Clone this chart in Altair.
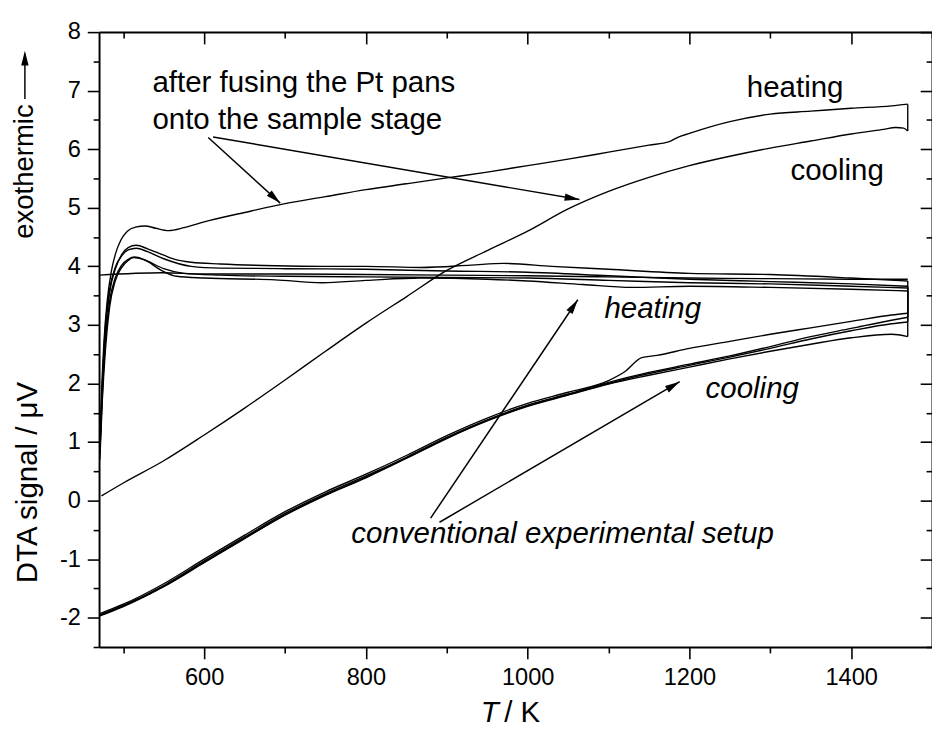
import math
import altair as alt
import pandas as pd

FONT = "Liberation Sans"
X_DOMAIN = [470, 1500]
Y_DOMAIN = [-2.5, 8]
W, H = 848, 626

# ---------------- data ----------------
# after fusing the Pt pans: heating run, then cooling run
fh_T = [471, 473, 476, 480, 485, 490, 497, 505, 515, 527, 540, 556, 575, 600, 650, 700, 750, 800, 850, 900,
        950, 1000, 1050, 1100, 1150, 1175, 1185, 1200, 1250, 1300, 1350, 1400, 1450, 1470]
fh_v = [0.9, 1.8, 2.7, 3.4, 3.9, 4.2, 4.45, 4.6, 4.67, 4.69, 4.65, 4.61, 4.66, 4.76, 4.92, 5.07, 5.19, 5.31, 5.41, 5.51,
        5.61, 5.72, 5.83, 5.95, 6.07, 6.13, 6.20, 6.27, 6.47, 6.60, 6.65, 6.70, 6.74, 6.77]
fc_T = [1470, 1465, 1455, 1440, 1400, 1350, 1300, 1250, 1200, 1150, 1100, 1050, 1000, 950, 900, 850, 800, 750,
        700, 650, 600, 550, 500, 473]
fc_v = [6.31, 6.36, 6.37, 6.34, 6.26, 6.14, 6.02, 5.88, 5.72, 5.52, 5.28, 4.98, 4.60, 4.27, 3.93, 3.48, 3.03, 2.55,
        2.06, 1.58, 1.12, 0.68, 0.30, 0.08]

# conventional experimental setup: heating runs
ch1_T = [471, 474, 478, 483, 490, 498, 506, 516, 530, 550, 566, 584, 620, 688, 746, 800, 868, 930, 970, 1030,
         1100, 1200, 1300, 1400, 1470]
ch1_v = [0.8, 1.9, 2.9, 3.55, 3.95, 4.2, 4.32, 4.36, 4.30, 4.19, 4.11, 4.07, 4.04, 4.01, 4.00, 4.00, 3.98, 4.02,
         4.05, 4.00, 3.95, 3.88, 3.86, 3.80, 3.75]
ch2_T = [471, 474, 478, 483, 490, 498, 506, 516, 530, 550, 584, 620, 700, 800, 900, 1000, 1100, 1200, 1300, 1400, 1470]
ch2_v = [0.9, 2.0, 3.0, 3.6, 3.98, 4.18, 4.28, 4.31, 4.25, 4.13, 4.00, 3.97, 3.96, 3.95, 3.92, 3.90, 3.84, 3.78,
         3.74, 3.70, 3.66]
ch3_T = [471, 474, 478, 483, 490, 498, 506, 512, 525, 546, 566, 600, 688, 746, 800, 868, 950, 1000, 1068, 1129,
         1200, 1300, 1400, 1470]
ch3_v = [0.7, 1.7, 2.6, 3.3, 3.75, 3.98, 4.10, 4.15, 4.12, 3.94, 3.83, 3.80, 3.77, 3.72, 3.76, 3.80, 3.78, 3.75,
         3.69, 3.64, 3.66, 3.64, 3.61, 3.58]
ch4_T = [471, 474, 478, 483, 490, 498, 506, 514, 528, 550, 575, 620, 700, 800, 900, 1000, 1100, 1200, 1300, 1400, 1470]
ch4_v = [0.85, 1.8, 2.75, 3.4, 3.8, 4.02, 4.12, 4.16, 4.10, 3.96, 3.88, 3.85, 3.83, 3.82, 3.81, 3.80, 3.76, 3.72,
         3.70, 3.66, 3.63]
flat_T = [470, 548, 600, 700, 800, 900, 1000, 1100, 1200, 1300, 1400, 1470]
flat_v = [3.85, 3.89, 3.87, 3.87, 3.86, 3.85, 3.84, 3.82, 3.80, 3.79, 3.78, 3.78]

# conventional experimental setup: cooling runs
cc_T = [1470, 1450, 1400, 1350, 1300, 1250, 1200, 1150, 1100, 1050, 1000, 950, 900, 850, 800, 750, 700, 650, 600,
        550, 500, 471]
cc1_v = [3.13, 3.08, 2.94, 2.80, 2.63, 2.47, 2.33, 2.19, 2.02, 1.82, 1.63, 1.38, 1.08, 0.74, 0.42, 0.12, -0.22,
         -0.62, -1.03, -1.45, -1.79, -1.95]
cc2_v = [2.80, 2.84, 2.78, 2.67, 2.55, 2.42, 2.28, 2.14, 1.99, 1.80, 1.61, 1.36, 1.06, 0.72, 0.39, 0.09, -0.25,
         -0.65, -1.06, -1.47, -1.81, -1.97]
cc4_v = [3.05, 3.02, 2.90, 2.76, 2.60, 2.45, 2.31, 2.17, 2.00, 1.81, 1.62, 1.37, 1.07, 0.73, 0.40, 0.10, -0.24,
         -0.64, -1.05, -1.46, -1.80, -1.96]
cc3_T = [1470, 1450, 1400, 1350, 1300, 1250, 1200, 1160, 1141, 1120, 1100, 1050, 1000, 950, 900, 850, 800, 750,
         700, 650, 600, 550, 500, 471]
cc3_v = [3.20, 3.17, 3.06, 2.95, 2.84, 2.72, 2.60, 2.48, 2.44, 2.20, 2.05, 1.85, 1.66, 1.41, 1.11, 0.77, 0.45,
         0.15, -0.19, -0.59, -1.00, -1.42, -1.77, -1.93]

# axis tick values
x_ticks = [500, 600, 700, 800, 900, 1000, 1100, 1200, 1300, 1400]
x_major = [600, 800, 1000, 1200, 1400]
x_minor = [500, 700, 900, 1100, 1300, 1500]
y_ticks = [-2.5, -2, -1.5, -1, -0.5, 0, 0.5, 1, 1.5, 2, 2.5, 3, 3.5, 4, 4.5, 5, 5.5, 6, 6.5, 7, 7.5, 8]
y_major = [-2, -1, 0, 1, 2, 3, 4, 5, 6, 7, 8]
y_minor = [-2.5, -1.5, -0.5, 0.5, 1.5, 2.5, 3.5, 4.5, 5.5, 6.5, 7.5]

# annotations (left edge / baseline, data coordinates)
up_text = ["after fusing the Pt pans", "onto the sample stage", "heating", "cooling"]
up_T = [536, 536, 1271, 1325]
up_v = [6.98, 6.34, 6.90, 5.47]
it_text = ["heating", "cooling", "conventional experimental setup"]
it_T = [1095, 1220, 782]
it_v = [3.12, 1.76, -0.72]

# arrows: start -> tip
arr_T1 = [605, 611, 880, 891]
arr_v1 = [6.20, 6.21, -0.30, -0.37]
arr_T2 = [694, 1064, 1062, 1188]
arr_v2 = [5.08, 5.14, 3.43, 2.03]

# ---------------- tables ----------------
runs = [
    ("fused", fh_T, fh_v, fc_T, fc_v),
    ("conv1", ch1_T, ch1_v, cc_T, cc1_v),
    ("conv2", ch2_T, ch2_v, cc_T, cc2_v),
    ("conv3", ch3_T, ch3_v, cc3_T, cc3_v),
    ("conv4", ch4_T, ch4_v, cc_T, cc4_v),
]
rows, links = [], []
for name, hT, hv, cT, cv in runs:
    for t, val in zip(hT, hv):
        rows.append({"curve": name + "_heat", "T": t, "v": val})
    for t, val in zip(cT, cv):
        rows.append({"curve": name + "_cool", "T": t, "v": val})
    links.append({"T": hT[-1], "v1": hv[-1], "v2": cv[0]})
for t, val in zip(flat_T, flat_v):
    rows.append({"curve": "flat", "T": t, "v": val})
df = pd.DataFrame(rows)
link_df = pd.DataFrame(links)

kx = W / (X_DOMAIN[1] - X_DOMAIN[0])
ky = H / (Y_DOMAIN[1] - Y_DOMAIN[0])
angs = []
for a, b, c, d in zip(arr_T1, arr_v1, arr_T2, arr_v2):
    dx = (c - a) * kx
    dy = -(d - b) * ky
    angs.append((math.degrees(math.atan2(dx, -dy)) + 360) % 360)
arr = pd.DataFrame({"T1": arr_T1, "v1": arr_v1, "T2": arr_T2, "v2": arr_v2, "ang": angs})

xs = alt.Scale(domain=X_DOMAIN, nice=False, zero=False)
ys = alt.Scale(domain=Y_DOMAIN, nice=False, zero=False)
HEAD = "M0,0L-0.9,3.6L0.9,3.6Z"
TXT = 30

def cond(test, a, b):
    return {"condition": {"test": test, "value": a}, "value": b}

common = dict(domainColor="black", tickColor="black", labelColor="black", titleColor="black",
              grid=False, labelFont=FONT, titleFont=FONT)

x_axis = alt.Axis(orient="bottom", values=x_ticks, domainWidth=2, tickWidth=1.6,
                  tickSize=cond("datum.value % 200 === 0", 12, 6),
                  labelExpr="datum.value % 200 === 0 ? toString(datum.value) : ''",
                  labelFontSize=24, labelPadding=7, labelOverlap=False, labelFlush=False,
                  title="T", titleFontStyle="italic", titleFontWeight="normal", titleFontSize=TXT,
                  titleX=388, titleY=76, titleAlign="left", titleBaseline="alphabetic", **common)
y_axis = alt.Axis(orient="left", values=y_ticks, domainWidth=2, tickWidth=1.6,
                  tickSize=cond("datum.value % 1 === 0", 12, 6),
                  labelExpr="datum.value % 1 === 0 ? toString(datum.value) : ''",
                  labelFontSize=24, labelPadding=7, labelOverlap=False, labelFlush=False,
                  title="DTA signal / μV", titleFontWeight="normal", titleFontSize=TXT,
                  titleX=-64, titleY=458, titleAngle=270, titleAlign="center",
                  titleBaseline="alphabetic", **common)

lines = alt.Chart(df).mark_line(color="black", strokeWidth=1.4, interpolate="monotone").encode(
    x=alt.X("T:Q", scale=xs, axis=x_axis),
    y=alt.Y("v:Q", scale=ys, axis=y_axis),
    detail="curve:N",
    order="T:Q",
)
connectors = alt.Chart(link_df).mark_rule(color="black", strokeWidth=1.4).encode(
    x=alt.X("T:Q", scale=xs, axis=None), y=alt.Y("v1:Q", scale=ys, axis=None), y2="v2:Q")

def xaxis_layer(vals, **kw):
    return alt.Chart(pd.DataFrame({"T": vals})).mark_point(opacity=0).encode(
        x=alt.X("T:Q", scale=xs, axis=alt.Axis(**kw)))

def yaxis_layer(vals, **kw):
    return alt.Chart(pd.DataFrame({"v": vals})).mark_point(opacity=0).encode(
        y=alt.Y("v:Q", scale=ys, axis=alt.Axis(**kw)))

kt = dict(domainColor="black", tickColor="black", grid=False, labels=False, title=None)
x_title2 = xaxis_layer(x_major, orient="bottom", ticks=False, labels=False, domain=False, grid=False,
                       title="/ K", titleFont=FONT, titleFontSize=TXT, titleFontWeight="normal",
                       titleColor="black", titleX=412, titleY=76, titleAlign="left",
                       titleBaseline="alphabetic")
top_spine = xaxis_layer(x_major, orient="top", ticks=False, domain=True, domainWidth=2, **kt)
top_major = xaxis_layer(x_major, orient="top", values=x_major, domain=False, offset=-12,
                        tickSize=12, tickWidth=1.6, **kt)
top_minor = xaxis_layer(x_minor, orient="top", values=x_minor, domain=False, offset=-6,
                        tickSize=6, tickWidth=1.6, **kt)
right_spine = yaxis_layer(y_major, orient="right", ticks=False, domain=True, domainWidth=2, **kt)
right_major = yaxis_layer(y_major, orient="right", values=y_major, domain=False, offset=-12,
                          tickSize=12, tickWidth=1.6, **kt)
right_minor = yaxis_layer(y_minor, orient="right", values=y_minor, domain=False, offset=-6,
                          tickSize=6, tickWidth=1.6, **kt)

ann_up = alt.Chart(pd.DataFrame({"T": up_T, "v": up_v, "label": up_text})).mark_text(
    align="left", baseline="alphabetic", font=FONT, fontSize=TXT, color="black").encode(
    x=alt.X("T:Q", scale=xs, axis=None), y=alt.Y("v:Q", scale=ys, axis=None), text="label:N")
ann_it = alt.Chart(pd.DataFrame({"T": it_T, "v": it_v, "label": it_text})).mark_text(
    align="left", baseline="alphabetic", font=FONT, fontSize=TXT, fontStyle="italic", color="black").encode(
    x=alt.X("T:Q", scale=xs, axis=None), y=alt.Y("v:Q", scale=ys, axis=None), text="label:N")

arrow_lines = alt.Chart(arr).mark_rule(color="black", strokeWidth=1.5).encode(
    x=alt.X("T1:Q", scale=xs, axis=None), y=alt.Y("v1:Q", scale=ys, axis=None),
    x2="T2:Q", y2="v2:Q")
arrow_heads = alt.Chart(arr).mark_point(shape=HEAD, filled=True, color="black", opacity=1,
                                        size=70, strokeWidth=0).encode(
    x=alt.X("T2:Q", scale=xs, axis=None), y=alt.Y("v2:Q", scale=ys, axis=None),
    angle=alt.Angle("ang:Q", scale=None))

exo = pd.DataFrame({"label": ["exothermic"]})
exo_text = alt.Chart(exo).mark_text(angle=270, align="center", baseline="alphabetic", font=FONT,
                                    fontSize=28, color="black").encode(
    x=alt.value(-67), y=alt.value(142), text="label:N")
exo_line = alt.Chart(exo).mark_rule(color="black", strokeWidth=1.5).encode(
    x=alt.value(-75.5), y=alt.value(22), y2=alt.value(68))
exo_head = alt.Chart(exo).mark_point(shape=HEAD, filled=True, color="black", opacity=1, size=70,
                                     strokeWidth=0).encode(x=alt.value(-75.5), y=alt.value(19))

chart = alt.layer(
    lines, connectors, x_title2, top_spine, top_major, top_minor, right_spine, right_major, right_minor,
    ann_up, ann_it, arrow_lines, arrow_heads, exo_text, exo_line, exo_head,
).resolve_axis(x="independent", y="independent").properties(
    width=W, height=H,
    autosize=alt.AutoSizeParams(type="none"),
    padding={"left": 92.7, "top": 18, "right": 0, "bottom": 80},
    background="white",
).configure_view(stroke=None)

chart.save("out.html", embed_options={"renderer": "svg", "actions": False})
